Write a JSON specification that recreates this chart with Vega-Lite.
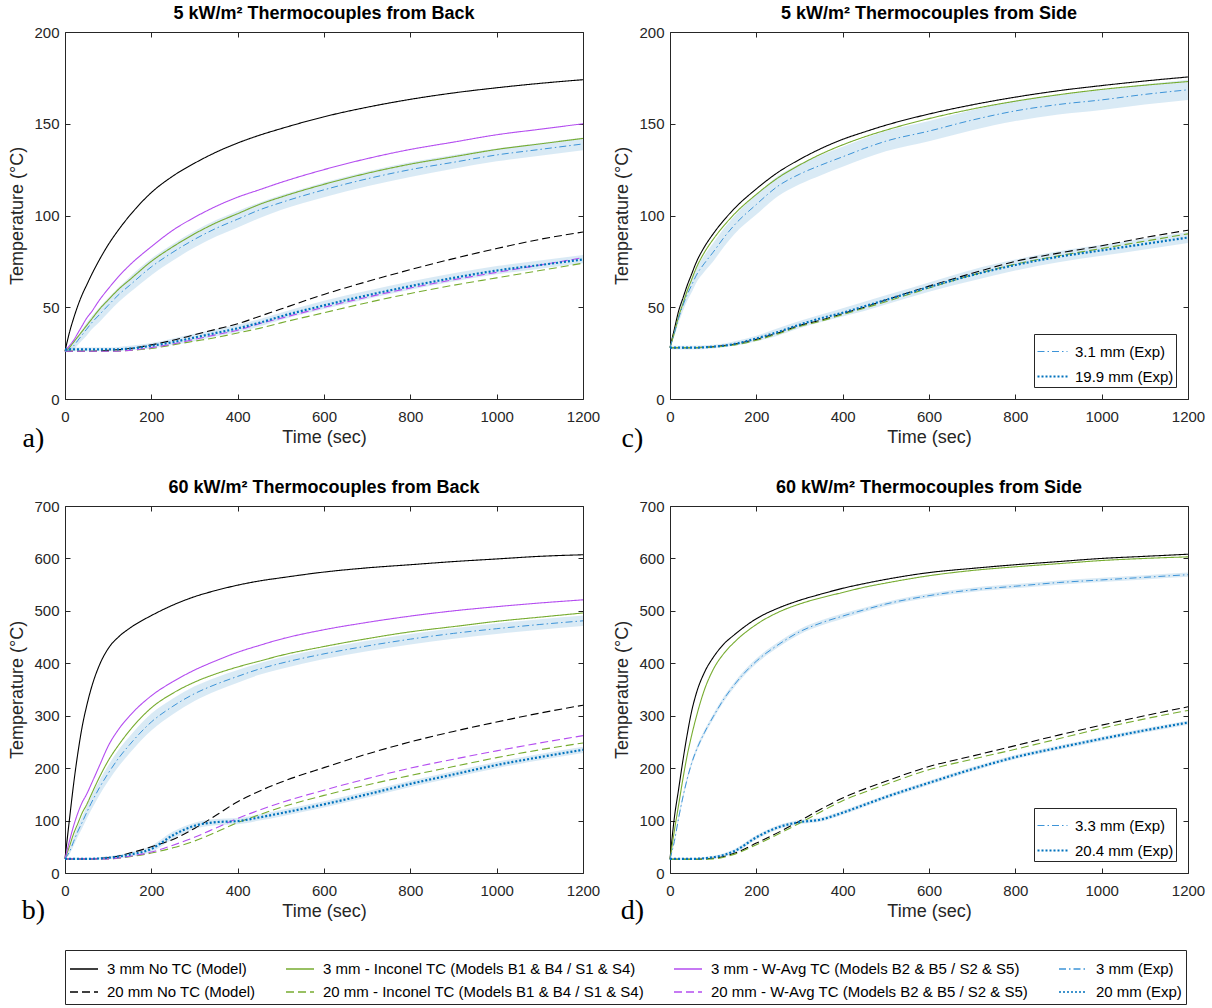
{
"$schema":"https://vega.github.io/schema/vega-lite/v6.json",
"padding":{"left":8,"top":4,"right":4,"bottom":0},
"background":"white",
"datasets":{
"names":[
{"k":"n3","s":"3 mm No TC (Model)"},
{"k":"i3","s":"3 mm - Inconel TC (Models B1 & B4 / S1 & S4)"},
{"k":"w3","s":"3 mm - W-Avg TC (Models B2 & B5 / S2 & S5)"},
{"k":"e3","s":"3 mm (Exp)"},
{"k":"n20","s":"20 mm No TC (Model)"},
{"k":"i20","s":"20 mm - Inconel TC (Models B1 & B4 / S1 & S4)"},
{"k":"w20","s":"20 mm - W-Avg TC (Models B2 & B5 / S2 & S5)"},
{"k":"e20","s":"20 mm (Exp)"}
],
"rows":[
{"p":"a","t":0,"n3":26,"w3":26,"i3":26,"e3":26,"e3l":25.5,"e3h":26.5,"n20":26,"w20":26,"i20":26,"e20":27,"e20l":26,"e20h":28},
{"p":"a","t":10,"n3":36,"w3":29,"i3":28,"e3":27,"e3l":25.5,"e3h":29},
{"p":"a","t":20,"n3":44,"w3":32,"i3":31,"e3":29,"e3l":27,"e3h":31.5},
{"p":"a","t":30,"n3":51,"w3":36,"i3":34,"e3":32,"e3l":29.5,"e3h":34.5},
{"p":"a","t":40,"n3":57,"w3":40,"i3":37,"e3":35,"e3l":32,"e3h":38},
{"p":"a","t":50,"n3":62,"w3":44,"i3":40,"e3":38,"e3l":34.5,"e3h":41.5,"n20":26,"w20":26,"i20":26,"e20":27,"e20l":26,"e20h":28},
{"p":"a","t":60,"n3":67,"w3":47,"i3":43,"e3":41,"e3l":37.5,"e3h":44.5},
{"p":"a","t":80,"n3":76,"w3":54,"i3":49,"e3":46,"e3l":42,"e3h":50},
{"p":"a","t":100,"n3":84,"w3":60,"i3":54,"e3":51,"e3l":47,"e3h":55,"n20":26.5,"w20":26,"i20":26,"e20":27,"e20l":26,"e20h":28},
{"p":"a","t":125,"n3":92.5,"w3":67,"i3":60,"e3":57,"e3l":53,"e3h":61},
{"p":"a","t":150,"n3":100,"w3":73,"i3":65,"e3":62,"e3l":58,"e3h":66.5,"n20":27.5,"w20":26.5,"i20":26.5,"e20":27.5,"e20l":26.5,"e20h":29},
{"p":"a","t":200,"n3":112.5,"w3":83,"i3":75,"e3":72,"e3l":67.5,"e3h":76.5,"n20":29.5,"w20":28,"i20":27.5,"e20":29,"e20l":27.5,"e20h":30.5},
{"p":"a","t":250,"n3":121.5,"w3":92,"i3":83,"e3":80,"e3l":75.5,"e3h":84.5,"n20":32,"w20":30,"i20":29.5,"e20":31,"e20l":29.5,"e20h":33},
{"p":"a","t":300,"n3":128.5,"w3":99,"i3":90,"e3":87,"e3l":82.5,"e3h":91.5,"n20":35,"w20":32.5,"i20":31.5,"e20":33.5,"e20l":31.5,"e20h":35.5},
{"p":"a","t":350,"n3":134.5,"w3":105,"i3":96,"e3":93,"e3l":88.5,"e3h":97.5,"n20":38,"w20":35,"i20":33.5,"e20":36,"e20l":34,"e20h":38},
{"p":"a","t":400,"n3":139.5,"w3":110,"i3":101,"e3":98,"e3l":93.5,"e3h":102.5,"n20":41,"w20":37.5,"i20":36,"e20":38.5,"e20l":36.5,"e20h":40.5},
{"p":"a","t":450,"n3":143.7,"w3":114,"i3":106,"e3":103,"e3l":98.5,"e3h":107,"n20":45,"w20":41,"i20":38.5,"e20":41.5,"e20l":39.5,"e20h":43.5},
{"p":"a","t":500,"n3":147.3,"w3":118,"i3":110,"e3":107,"e3l":103,"e3h":111,"n20":49,"w20":44,"i20":41.5,"e20":45,"e20l":43,"e20h":47},
{"p":"a","t":600,"n3":153.8,"w3":125,"i3":117,"e3":114,"e3l":110,"e3h":118,"n20":57,"w20":50,"i20":47,"e20":51,"e20l":49,"e20h":53.5},
{"p":"a","t":700,"n3":159,"w3":131,"i3":123,"e3":120,"e3l":116,"e3h":124,"n20":64,"w20":55.5,"i20":52.5,"e20":56.5,"e20l":54.5,"e20h":59},
{"p":"a","t":800,"n3":163.3,"w3":136,"i3":128,"e3":125,"e3l":121,"e3h":129,"n20":70.5,"w20":60.5,"i20":57.5,"e20":61.5,"e20l":59.5,"e20h":64},
{"p":"a","t":900,"n3":166.8,"w3":140,"i3":132,"e3":129,"e3l":125.5,"e3h":133,"n20":76.5,"w20":65,"i20":62,"e20":66,"e20l":64,"e20h":68.5},
{"p":"a","t":1000,"n3":169.6,"w3":144,"i3":136,"e3":133,"e3l":129.5,"e3h":136.5,"n20":82,"w20":69,"i20":66,"e20":70,"e20l":68,"e20h":72.5},
{"p":"a","t":1100,"n3":172,"w3":147,"i3":139,"e3":136,"e3l":132.5,"e3h":139.5,"n20":87,"w20":73,"i20":70,"e20":73,"e20l":71,"e20h":75.5},
{"p":"a","t":1200,"n3":174,"w3":150,"i3":142,"e3":139,"e3l":135.5,"e3h":142.5,"n20":91,"w20":77,"i20":74,"e20":76,"e20l":74,"e20h":78.5},

{"p":"c","t":0,"n3":28,"i3":28,"e3":28,"e3l":27.5,"e3h":28.5,"n20":28,"i20":28,"e20":28,"e20l":27,"e20h":29},
{"p":"c","t":10,"n3":38,"i3":36,"e3":36,"e3l":34,"e3h":38},
{"p":"c","t":20,"n3":48,"i3":45,"e3":44,"e3l":41.5,"e3h":46.5},
{"p":"c","t":30,"n3":55,"i3":52,"e3":51,"e3l":48,"e3h":54},
{"p":"c","t":40,"n3":62,"i3":59,"e3":57,"e3l":53.5,"e3h":60.5},
{"p":"c","t":50,"n3":68,"i3":65,"e3":62,"e3l":58,"e3h":66,"n20":28,"i20":28,"e20":28,"e20l":27,"e20h":29},
{"p":"c","t":60,"n3":74,"i3":71,"e3":67,"e3l":63,"e3h":71},
{"p":"c","t":80,"n3":83,"i3":80,"e3":74,"e3l":69.5,"e3h":78.5},
{"p":"c","t":100,"n3":90,"i3":87,"e3":80,"e3l":75,"e3h":85,"n20":28.5,"i20":28.3,"e20":28.5,"e20l":27.5,"e20h":29.5},
{"p":"c","t":125,"n3":97.5,"i3":94.5,"e3":88,"e3l":83,"e3h":93},
{"p":"c","t":150,"n3":104,"i3":101,"e3":95,"e3l":90,"e3h":100,"n20":30,"i20":29.5,"e20":30,"e20l":29,"e20h":31.5},
{"p":"c","t":200,"n3":114.5,"i3":111.5,"e3":106,"e3l":100.5,"e3h":111.5,"n20":32.5,"i20":32,"e20":33,"e20l":31.5,"e20h":34.5},
{"p":"c","t":250,"n3":123.5,"i3":120.5,"e3":116,"e3l":110.5,"e3h":121.5,"n20":36,"i20":35.5,"e20":36.5,"e20l":34.5,"e20h":38.5},
{"p":"c","t":300,"n3":130.5,"i3":127.5,"e3":122.5,"e3l":117,"e3h":128,"n20":40,"i20":39.5,"e20":40.5,"e20l":38.5,"e20h":42.5},
{"p":"c","t":350,"n3":136.5,"i3":133.5,"e3":127.5,"e3l":122,"e3h":133,"n20":43,"i20":42.5,"e20":44,"e20l":42,"e20h":46},
{"p":"c","t":400,"n3":141.5,"i3":138.5,"e3":132,"e3l":126.5,"e3h":137.5,"n20":46.5,"i20":46,"e20":47,"e20l":45,"e20h":49.5},
{"p":"c","t":450,"n3":145.5,"i3":142.8,"e3":136.5,"e3l":131,"e3h":142,"n20":50,"i20":49.5,"e20":50.5,"e20l":48,"e20h":53},
{"p":"c","t":500,"n3":149.2,"i3":146.5,"e3":140.5,"e3l":135,"e3h":146,"n20":54,"i20":53,"e20":54,"e20l":51.5,"e20h":56.5},
{"p":"c","t":600,"n3":155.3,"i3":152.8,"e3":146,"e3l":140.5,"e3h":151.5,"n20":61.5,"i20":60.5,"e20":61,"e20l":58.5,"e20h":63.5},
{"p":"c","t":700,"n3":160.3,"i3":158,"e3":152,"e3l":146.5,"e3h":157.5,"n20":68.5,"i20":67.5,"e20":67.5,"e20l":64.5,"e20h":70.5},
{"p":"c","t":800,"n3":164.5,"i3":162.3,"e3":157,"e3l":151.5,"e3h":162.5,"n20":75,"i20":73.5,"e20":73,"e20l":70,"e20h":76},
{"p":"c","t":900,"n3":168,"i3":165.8,"e3":160.5,"e3l":155,"e3h":166,"n20":79.5,"i20":78,"e20":77.5,"e20l":74.5,"e20h":80.5},
{"p":"c","t":1000,"n3":170.8,"i3":168.7,"e3":163,"e3l":157.5,"e3h":168.5,"n20":83.5,"i20":82,"e20":81,"e20l":78,"e20h":84},
{"p":"c","t":1100,"n3":173.3,"i3":171,"e3":166,"e3l":160.5,"e3h":171.5,"n20":88,"i20":86,"e20":84.5,"e20l":81.5,"e20h":87.5},
{"p":"c","t":1200,"n3":175.5,"i3":173,"e3":168.5,"e3l":163,"e3h":174,"n20":92,"i20":90,"e20":88,"e20l":85,"e20h":91},

{"p":"b","t":0,"n3":27,"w3":27,"i3":27,"e3":27,"e3l":26,"e3h":28,"n20":27,"w20":27,"i20":27,"e20":27,"e20l":25,"e20h":29},
{"p":"b","t":10,"n3":100,"w3":60,"i3":50,"e3":40,"e3l":35,"e3h":46},
{"p":"b","t":20,"n3":170,"w3":90,"i3":75,"e3":60,"e3l":52,"e3h":68},
{"p":"b","t":30,"n3":230,"w3":115,"i3":95,"e3":80,"e3l":70,"e3h":90},
{"p":"b","t":40,"n3":280,"w3":135,"i3":115,"e3":97,"e3l":86,"e3h":108},
{"p":"b","t":50,"n3":318,"w3":150,"i3":130,"e3":115,"e3l":103,"e3h":127,"n20":27,"w20":27,"i20":27,"e20":27,"e20l":25,"e20h":29},
{"p":"b","t":60,"n3":350,"w3":168,"i3":148,"e3":132,"e3l":119,"e3h":145},
{"p":"b","t":80,"n3":397,"w3":205,"i3":183,"e3":163,"e3l":149,"e3h":177},
{"p":"b","t":100,"n3":428,"w3":242,"i3":214,"e3":190,"e3l":175,"e3h":205,"n20":29,"w20":27,"i20":27,"e20":29,"e20l":26,"e20h":32},
{"p":"b","t":125,"n3":451,"w3":275,"i3":245,"e3":220,"e3l":204,"e3h":236},
{"p":"b","t":150,"n3":467,"w3":300,"i3":272,"e3":245,"e3l":229,"e3h":261,"n20":38,"w20":32,"i20":31,"e20":35,"e20l":31,"e20h":39},
{"p":"b","t":200,"n3":491,"w3":338,"i3":315,"e3":288,"e3l":272,"e3h":304,"n20":50,"w20":40,"i20":38,"e20":46,"e20l":40,"e20h":52},
{"p":"b","t":250,"n3":511,"w3":365,"i3":343,"e3":318,"e3l":303,"e3h":333,"n20":64,"w20":53,"i20":48,"e20":72,"e20l":65,"e20h":79},
{"p":"b","t":300,"n3":527,"w3":387,"i3":364,"e3":342,"e3l":328,"e3h":356,"n20":85,"w20":68,"i20":61,"e20":90,"e20l":84,"e20h":96},
{"p":"b","t":350,"n3":539,"w3":405,"i3":380,"e3":360,"e3l":347,"e3h":373,"n20":110,"w20":86,"i20":78,"e20":97,"e20l":91,"e20h":103},
{"p":"b","t":400,"n3":549,"w3":421,"i3":393,"e3":375,"e3l":363,"e3h":387,"n20":136,"w20":104,"i20":96,"e20":99,"e20l":93,"e20h":105},
{"p":"b","t":450,"n3":557,"w3":434,"i3":404,"e3":389,"e3l":378,"e3h":400,"n20":156,"w20":120,"i20":111,"e20":106,"e20l":100,"e20h":112},
{"p":"b","t":500,"n3":563,"w3":446,"i3":415,"e3":400,"e3l":389,"e3h":411,"n20":173,"w20":134,"i20":125,"e20":114,"e20l":108,"e20h":120},
{"p":"b","t":600,"n3":574,"w3":464,"i3":432,"e3":418,"e3l":408,"e3h":428,"n20":201,"w20":158,"i20":148,"e20":131,"e20l":125,"e20h":137},
{"p":"b","t":700,"n3":582,"w3":478,"i3":447,"e3":433,"e3l":423,"e3h":443,"n20":227,"w20":180,"i20":168,"e20":150,"e20l":144,"e20h":156},
{"p":"b","t":800,"n3":588,"w3":490,"i3":460,"e3":446,"e3l":436,"e3h":456,"n20":250,"w20":200,"i20":186,"e20":170,"e20l":164,"e20h":176},
{"p":"b","t":900,"n3":594,"w3":500,"i3":470,"e3":457,"e3l":447,"e3h":467,"n20":270,"w20":217,"i20":203,"e20":188,"e20l":182,"e20h":194},
{"p":"b","t":1000,"n3":599,"w3":508,"i3":480,"e3":466,"e3l":456,"e3h":476,"n20":288,"w20":233,"i20":220,"e20":206,"e20l":200,"e20h":212},
{"p":"b","t":1100,"n3":604,"w3":515,"i3":488,"e3":474,"e3l":464,"e3h":484,"n20":305,"w20":248,"i20":235,"e20":221,"e20l":215,"e20h":227},
{"p":"b","t":1200,"n3":607,"w3":521,"i3":496,"e3":481,"e3l":471,"e3h":491,"n20":320,"w20":262,"i20":248,"e20":235,"e20l":229,"e20h":241},

{"p":"d","t":0,"n3":26,"i3":26,"e3":26,"e3l":25,"e3h":27,"n20":26,"i20":26,"e20":27,"e20l":25,"e20h":29},
{"p":"d","t":10,"n3":105,"i3":80,"e3":60,"e3l":56,"e3h":64},
{"p":"d","t":20,"n3":160,"i3":130,"e3":105,"e3l":100,"e3h":110},
{"p":"d","t":30,"n3":215,"i3":180,"e3":145,"e3l":140,"e3h":150},
{"p":"d","t":40,"n3":265,"i3":225,"e3":180,"e3l":175,"e3h":185},
{"p":"d","t":50,"n3":308,"i3":262,"e3":209,"e3l":204,"e3h":214,"n20":26,"i20":26,"e20":27,"e20l":25,"e20h":29},
{"p":"d","t":60,"n3":340,"i3":295,"e3":232,"e3l":227,"e3h":237},
{"p":"d","t":80,"n3":383,"i3":350,"e3":268,"e3l":263,"e3h":273},
{"p":"d","t":100,"n3":411,"i3":388,"e3":298,"e3l":293,"e3h":303,"n20":28,"i20":27,"e20":30,"e20l":27,"e20h":33},
{"p":"d","t":125,"n3":437,"i3":419,"e3":332,"e3l":327,"e3h":337},
{"p":"d","t":150,"n3":455,"i3":441,"e3":360,"e3l":355,"e3h":365,"n20":38,"i20":36,"e20":42,"e20l":38,"e20h":46},
{"p":"d","t":200,"n3":485,"i3":474,"e3":404,"e3l":399,"e3h":409,"n20":57,"i20":54,"e20":68,"e20l":64,"e20h":72},
{"p":"d","t":250,"n3":505,"i3":497,"e3":435,"e3l":430,"e3h":440,"n20":77,"i20":74,"e20":87,"e20l":83,"e20h":91},
{"p":"d","t":300,"n3":520,"i3":513,"e3":460,"e3l":455,"e3h":465,"n20":99,"i20":95,"e20":97,"e20l":93,"e20h":101},
{"p":"d","t":350,"n3":532,"i3":525,"e3":477,"e3l":472,"e3h":482,"n20":122,"i20":117,"e20":102,"e20l":98,"e20h":106},
{"p":"d","t":400,"n3":543,"i3":535,"e3":490,"e3l":485,"e3h":495,"n20":143,"i20":138,"e20":115,"e20l":111,"e20h":119},
{"p":"d","t":450,"n3":552,"i3":545,"e3":502,"e3l":498,"e3h":506,"n20":160,"i20":154,"e20":130,"e20l":126,"e20h":134},
{"p":"d","t":500,"n3":560,"i3":553,"e3":513,"e3l":509,"e3h":517,"n20":175,"i20":169,"e20":145,"e20l":141,"e20h":149},
{"p":"d","t":600,"n3":573,"i3":567,"e3":529,"e3l":525,"e3h":533,"n20":203,"i20":197,"e20":172,"e20l":168,"e20h":176},
{"p":"d","t":700,"n3":581,"i3":577,"e3":540,"e3l":536,"e3h":544,"n20":223,"i20":217,"e20":198,"e20l":194,"e20h":202},
{"p":"d","t":800,"n3":588,"i3":584,"e3":547,"e3l":543,"e3h":551,"n20":243,"i20":236,"e20":221,"e20l":217,"e20h":225},
{"p":"d","t":900,"n3":594,"i3":590,"e3":554,"e3l":550,"e3h":558,"n20":263,"i20":256,"e20":239,"e20l":235,"e20h":243},
{"p":"d","t":1000,"n3":600,"i3":596,"e3":559,"e3l":555,"e3h":563,"n20":282,"i20":276,"e20":256,"e20l":252,"e20h":260},
{"p":"d","t":1100,"n3":604,"i3":600,"e3":564,"e3l":560,"e3h":568,"n20":300,"i20":294,"e20":272,"e20l":268,"e20h":276},
{"p":"d","t":1200,"n3":608,"i3":603,"e3":569,"e3l":565,"e3h":573,"n20":317,"i20":310,"e20":287,"e20l":283,"e20h":291}
]},
"data":{"name":"rows"},
"columns":2,
"spacing":{"row":107,"column":87},
"bounds":"flush",
"resolve":{"scale":{"x":"independent","y":"independent","strokeWidth":"independent"},"legend":{"strokeWidth":"independent"}},
"config":{
"view":{"stroke":"#262626","strokeWidth":1},
"font":"Liberation Sans",
"title":{"font":"Liberation Sans","fontSize":18,"fontWeight":"bold","color":"#000000","offset":2},
"axis":{"labelFont":"Liberation Sans","labelFontSize":15,"labelColor":"#262626","titleFont":"Liberation Sans","titleFontSize":18,"titleFontWeight":"normal","titleColor":"#262626","tickColor":"#262626","grid":false,"domain":false,"tickSize":-5,"labelFlush":false,"labelOverlap":false,"format":"d"},
"axisX":{"titlePadding":4,"labelPadding":15},
"axisY":{"titlePadding":7,"labelPadding":11},
"legend":{"orient":"bottom","direction":"horizontal","columns":4,"strokeColor":"#262626","fillColor":"white","padding":4,"offset":24,"labelFont":"Liberation Sans","labelFontSize":15,"labelColor":"#000000","symbolType":"stroke","symbolSize":784,"labelOffset":8,"symbolStrokeWidth":1.3,"rowPadding":-2,"columnPadding":27,"labelLimit":600}
},
"concat":[
{"width":518,"height":367,"title":"5 kW/m² Thermocouples from Back",
"transform":[{"filter":"datum.p == 'a'"}],
"resolve":{"axis":{"x":"independent","y":"independent"}},
"layer":[
{"transform":[{"filter":"isValid(datum.e3l)"}],"mark":{"type":"area","fill":"#0072bd","opacity":0.15,"interpolate":"monotone"},
"encoding":{"x":{"field":"t","type":"quantitative","scale":{"domain":[0,1200],"nice":false},"axis":{"orient":"bottom","values":[0,200,400,600,800,1000,1200],"title":"Time (sec)"}},
"y":{"field":"e3l","type":"quantitative","scale":{"domain":[0,200],"nice":false},"axis":{"orient":"left","values":[0,50,100,150,200],"title":"Temperature (°C)"}},"y2":{"field":"e3h"}}},
{"transform":[{"filter":"isValid(datum.e20l)"}],"mark":{"type":"area","fill":"#0072bd","opacity":0.15,"interpolate":"monotone"},
"encoding":{"x":{"field":"t","type":"quantitative","scale":{"domain":[0,1200],"nice":false},"axis":{"orient":"top","values":[0,200,400,600,800,1000,1200],"labels":false,"title":null}},
"y":{"field":"e20l","type":"quantitative","scale":{"domain":[0,200],"nice":false},"axis":{"orient":"right","values":[0,50,100,150,200],"labels":false,"title":null}},"y2":{"field":"e20h"}}},
{"transform":[{"fold":["n3","i3","w3","n20","i20","w20"],"as":["k","v"]},{"filter":"isValid(datum.v)"},{"lookup":"k","from":{"data":{"name":"names"},"key":"k","fields":["s"]}}],
"mark":{"type":"line","interpolate":"monotone","strokeWidth":1.1},
"encoding":{"x":{"field":"t","type":"quantitative","scale":{"domain":[0,1200],"nice":false},"axis":null},
"y":{"field":"v","type":"quantitative","scale":{"domain":[0,200],"nice":false},"axis":null},
"color":{"field":"s","type":"nominal","scale":{"domain":["3 mm No TC (Model)","3 mm - Inconel TC (Models B1 & B4 / S1 & S4)","3 mm - W-Avg TC (Models B2 & B5 / S2 & S5)","3 mm (Exp)","20 mm No TC (Model)","20 mm - Inconel TC (Models B1 & B4 / S1 & S4)","20 mm - W-Avg TC (Models B2 & B5 / S2 & S5)","20 mm (Exp)"],"range":["#000000","#77ac30","#b44df0","#3d94d8","#000000","#77ac30","#b44df0","#0072bd"]},"legend":{"title":null}},
"strokeDash":{"field":"s","type":"nominal","scale":{"domain":["3 mm No TC (Model)","3 mm - Inconel TC (Models B1 & B4 / S1 & S4)","3 mm - W-Avg TC (Models B2 & B5 / S2 & S5)","3 mm (Exp)","20 mm No TC (Model)","20 mm - Inconel TC (Models B1 & B4 / S1 & S4)","20 mm - W-Avg TC (Models B2 & B5 / S2 & S5)","20 mm (Exp)"],"range":[[1,0],[1,0],[1,0],[7,3,1.5,3],[8,4],[8,4],[8,4],[2,2]]},"legend":{"title":null}}}},
{"transform":[{"fold":["e3","e20"],"as":["k","v"]},{"filter":"isValid(datum.v)"},{"lookup":"k","from":{"data":{"name":"names"},"key":"k","fields":["s"]}}],
"mark":{"type":"line","interpolate":"monotone"},
"encoding":{"x":{"field":"t","type":"quantitative","scale":{"domain":[0,1200],"nice":false},"axis":null},
"y":{"field":"v","type":"quantitative","scale":{"domain":[0,200],"nice":false},"axis":null},
"color":{"field":"s","type":"nominal","scale":{"domain":["3 mm No TC (Model)","3 mm - Inconel TC (Models B1 & B4 / S1 & S4)","3 mm - W-Avg TC (Models B2 & B5 / S2 & S5)","3 mm (Exp)","20 mm No TC (Model)","20 mm - Inconel TC (Models B1 & B4 / S1 & S4)","20 mm - W-Avg TC (Models B2 & B5 / S2 & S5)","20 mm (Exp)"],"range":["#000000","#77ac30","#b44df0","#3d94d8","#000000","#77ac30","#b44df0","#0072bd"]},"legend":{"title":null}},
"strokeDash":{"field":"s","type":"nominal","scale":{"domain":["3 mm No TC (Model)","3 mm - Inconel TC (Models B1 & B4 / S1 & S4)","3 mm - W-Avg TC (Models B2 & B5 / S2 & S5)","3 mm (Exp)","20 mm No TC (Model)","20 mm - Inconel TC (Models B1 & B4 / S1 & S4)","20 mm - W-Avg TC (Models B2 & B5 / S2 & S5)","20 mm (Exp)"],"range":[[1,0],[1,0],[1,0],[7,3,1.5,3],[8,4],[8,4],[8,4],[2,2]]},"legend":{"title":null}},
"strokeWidth":{"field":"k","type":"nominal","scale":{"type":"ordinal","domain":["e3","e20"],"range":[1,2.2]},"legend":null}}},
{"transform":[{"filter":"datum.t == 0"}],"mark":{"type":"text","text":"a)","font":"Liberation Serif","fontSize":28,"align":"center","baseline":"middle","color":"#000000"},
"encoding":{"x":{"datum":-73,"type":"quantitative","scale":{"domain":[0,1200],"nice":false},"axis":null},"y":{"datum":-22,"type":"quantitative","scale":{"domain":[0,200],"nice":false},"axis":null}}}
]},
{"width":518,"height":367,"title":"5 kW/m² Thermocouples from Side",
"transform":[{"filter":"datum.p == 'c'"}],
"resolve":{"axis":{"x":"independent","y":"independent"}},
"layer":[
{"transform":[{"filter":"isValid(datum.e3l)"}],"mark":{"type":"area","fill":"#0072bd","opacity":0.15,"interpolate":"monotone"},
"encoding":{"x":{"field":"t","type":"quantitative","scale":{"domain":[0,1200],"nice":false},"axis":{"orient":"bottom","values":[0,200,400,600,800,1000,1200],"title":"Time (sec)"}},
"y":{"field":"e3l","type":"quantitative","scale":{"domain":[0,200],"nice":false},"axis":{"orient":"left","values":[0,50,100,150,200],"title":"Temperature (°C)"}},"y2":{"field":"e3h"}}},
{"transform":[{"filter":"isValid(datum.e20l)"}],"mark":{"type":"area","fill":"#0072bd","opacity":0.15,"interpolate":"monotone"},
"encoding":{"x":{"field":"t","type":"quantitative","scale":{"domain":[0,1200],"nice":false},"axis":{"orient":"top","values":[0,200,400,600,800,1000,1200],"labels":false,"title":null}},
"y":{"field":"e20l","type":"quantitative","scale":{"domain":[0,200],"nice":false},"axis":{"orient":"right","values":[0,50,100,150,200],"labels":false,"title":null}},"y2":{"field":"e20h"}}},
{"transform":[{"fold":["n3","i3","w3","n20","i20","w20"],"as":["k","v"]},{"filter":"isValid(datum.v)"},{"lookup":"k","from":{"data":{"name":"names"},"key":"k","fields":["s"]}}],
"mark":{"type":"line","interpolate":"monotone","strokeWidth":1.1},
"encoding":{"x":{"field":"t","type":"quantitative","scale":{"domain":[0,1200],"nice":false},"axis":null},
"y":{"field":"v","type":"quantitative","scale":{"domain":[0,200],"nice":false},"axis":null},
"color":{"field":"s","type":"nominal","scale":{"domain":["3 mm No TC (Model)","3 mm - Inconel TC (Models B1 & B4 / S1 & S4)","3 mm - W-Avg TC (Models B2 & B5 / S2 & S5)","3 mm (Exp)","20 mm No TC (Model)","20 mm - Inconel TC (Models B1 & B4 / S1 & S4)","20 mm - W-Avg TC (Models B2 & B5 / S2 & S5)","20 mm (Exp)"],"range":["#000000","#77ac30","#b44df0","#3d94d8","#000000","#77ac30","#b44df0","#0072bd"]},"legend":{"title":null}},
"strokeDash":{"field":"s","type":"nominal","scale":{"domain":["3 mm No TC (Model)","3 mm - Inconel TC (Models B1 & B4 / S1 & S4)","3 mm - W-Avg TC (Models B2 & B5 / S2 & S5)","3 mm (Exp)","20 mm No TC (Model)","20 mm - Inconel TC (Models B1 & B4 / S1 & S4)","20 mm - W-Avg TC (Models B2 & B5 / S2 & S5)","20 mm (Exp)"],"range":[[1,0],[1,0],[1,0],[7,3,1.5,3],[8,4],[8,4],[8,4],[2,2]]},"legend":{"title":null}}}},
{"transform":[{"fold":["e3","e20"],"as":["k","v"]},{"filter":"isValid(datum.v)"},{"lookup":"k","from":{"data":{"name":"names"},"key":"k","fields":["s"]}}],
"mark":{"type":"line","interpolate":"monotone"},
"encoding":{"x":{"field":"t","type":"quantitative","scale":{"domain":[0,1200],"nice":false},"axis":null},
"y":{"field":"v","type":"quantitative","scale":{"domain":[0,200],"nice":false},"axis":null},
"color":{"field":"s","type":"nominal","scale":{"domain":["3 mm No TC (Model)","3 mm - Inconel TC (Models B1 & B4 / S1 & S4)","3 mm - W-Avg TC (Models B2 & B5 / S2 & S5)","3 mm (Exp)","20 mm No TC (Model)","20 mm - Inconel TC (Models B1 & B4 / S1 & S4)","20 mm - W-Avg TC (Models B2 & B5 / S2 & S5)","20 mm (Exp)"],"range":["#000000","#77ac30","#b44df0","#3d94d8","#000000","#77ac30","#b44df0","#0072bd"]},"legend":{"title":null}},
"strokeDash":{"field":"s","type":"nominal","scale":{"domain":["3 mm No TC (Model)","3 mm - Inconel TC (Models B1 & B4 / S1 & S4)","3 mm - W-Avg TC (Models B2 & B5 / S2 & S5)","3 mm (Exp)","20 mm No TC (Model)","20 mm - Inconel TC (Models B1 & B4 / S1 & S4)","20 mm - W-Avg TC (Models B2 & B5 / S2 & S5)","20 mm (Exp)"],"range":[[1,0],[1,0],[1,0],[7,3,1.5,3],[8,4],[8,4],[8,4],[2,2]]},"legend":{"title":null}},
"strokeWidth":{"field":"k","type":"nominal","scale":{"type":"ordinal","domain":["e3","e20"],"range":[1,2.2]},
"legend":{"orient":"bottom-right","offset":12,"direction":"vertical","columns":1,"title":null,"padding":2,"rowPadding":-13,"labelFont":"Liberation Sans","labelFontSize":15,"symbolSize":900,"labelOffset":6,"labelExpr":"datum.value == 'e3' ? '3.1 mm (Exp)' : '19.9 mm (Exp)'",
"encode":{"symbols":{"update":{"stroke":{"signal":"datum.value == 'e3' ? '#3d94d8' : '#0072bd'"},"strokeWidth":{"signal":"datum.value == 'e3' ? 1.3 : 2.2"},"strokeDash":{"signal":"datum.value == 'e3' ? [7,3,1.5,3] : [2,2]"}}}}}}}},
{"transform":[{"filter":"datum.t == 0"}],"mark":{"type":"text","text":"c)","font":"Liberation Serif","fontSize":28,"align":"center","baseline":"middle","color":"#000000"},
"encoding":{"x":{"datum":-87,"type":"quantitative","scale":{"domain":[0,1200],"nice":false},"axis":null},"y":{"datum":-22,"type":"quantitative","scale":{"domain":[0,200],"nice":false},"axis":null}}}
]},
{"width":518,"height":367,"title":"60 kW/m² Thermocouples from Back",
"transform":[{"filter":"datum.p == 'b'"}],
"resolve":{"axis":{"x":"independent","y":"independent"}},
"layer":[
{"transform":[{"filter":"isValid(datum.e3l)"}],"mark":{"type":"area","fill":"#0072bd","opacity":0.15,"interpolate":"monotone"},
"encoding":{"x":{"field":"t","type":"quantitative","scale":{"domain":[0,1200],"nice":false},"axis":{"orient":"bottom","values":[0,200,400,600,800,1000,1200],"title":"Time (sec)"}},
"y":{"field":"e3l","type":"quantitative","scale":{"domain":[0,700],"nice":false},"axis":{"orient":"left","values":[0,100,200,300,400,500,600,700],"title":"Temperature (°C)"}},"y2":{"field":"e3h"}}},
{"transform":[{"filter":"isValid(datum.e20l)"}],"mark":{"type":"area","fill":"#0072bd","opacity":0.15,"interpolate":"monotone"},
"encoding":{"x":{"field":"t","type":"quantitative","scale":{"domain":[0,1200],"nice":false},"axis":{"orient":"top","values":[0,200,400,600,800,1000,1200],"labels":false,"title":null}},
"y":{"field":"e20l","type":"quantitative","scale":{"domain":[0,700],"nice":false},"axis":{"orient":"right","values":[0,100,200,300,400,500,600,700],"labels":false,"title":null}},"y2":{"field":"e20h"}}},
{"transform":[{"fold":["n3","i3","w3","n20","i20","w20"],"as":["k","v"]},{"filter":"isValid(datum.v)"},{"lookup":"k","from":{"data":{"name":"names"},"key":"k","fields":["s"]}}],
"mark":{"type":"line","interpolate":"monotone","strokeWidth":1.1},
"encoding":{"x":{"field":"t","type":"quantitative","scale":{"domain":[0,1200],"nice":false},"axis":null},
"y":{"field":"v","type":"quantitative","scale":{"domain":[0,700],"nice":false},"axis":null},
"color":{"field":"s","type":"nominal","scale":{"domain":["3 mm No TC (Model)","3 mm - Inconel TC (Models B1 & B4 / S1 & S4)","3 mm - W-Avg TC (Models B2 & B5 / S2 & S5)","3 mm (Exp)","20 mm No TC (Model)","20 mm - Inconel TC (Models B1 & B4 / S1 & S4)","20 mm - W-Avg TC (Models B2 & B5 / S2 & S5)","20 mm (Exp)"],"range":["#000000","#77ac30","#b44df0","#3d94d8","#000000","#77ac30","#b44df0","#0072bd"]},"legend":{"title":null}},
"strokeDash":{"field":"s","type":"nominal","scale":{"domain":["3 mm No TC (Model)","3 mm - Inconel TC (Models B1 & B4 / S1 & S4)","3 mm - W-Avg TC (Models B2 & B5 / S2 & S5)","3 mm (Exp)","20 mm No TC (Model)","20 mm - Inconel TC (Models B1 & B4 / S1 & S4)","20 mm - W-Avg TC (Models B2 & B5 / S2 & S5)","20 mm (Exp)"],"range":[[1,0],[1,0],[1,0],[7,3,1.5,3],[8,4],[8,4],[8,4],[2,2]]},"legend":{"title":null}}}},
{"transform":[{"fold":["e3","e20"],"as":["k","v"]},{"filter":"isValid(datum.v)"},{"lookup":"k","from":{"data":{"name":"names"},"key":"k","fields":["s"]}}],
"mark":{"type":"line","interpolate":"monotone"},
"encoding":{"x":{"field":"t","type":"quantitative","scale":{"domain":[0,1200],"nice":false},"axis":null},
"y":{"field":"v","type":"quantitative","scale":{"domain":[0,700],"nice":false},"axis":null},
"color":{"field":"s","type":"nominal","scale":{"domain":["3 mm No TC (Model)","3 mm - Inconel TC (Models B1 & B4 / S1 & S4)","3 mm - W-Avg TC (Models B2 & B5 / S2 & S5)","3 mm (Exp)","20 mm No TC (Model)","20 mm - Inconel TC (Models B1 & B4 / S1 & S4)","20 mm - W-Avg TC (Models B2 & B5 / S2 & S5)","20 mm (Exp)"],"range":["#000000","#77ac30","#b44df0","#3d94d8","#000000","#77ac30","#b44df0","#0072bd"]},"legend":{"title":null}},
"strokeDash":{"field":"s","type":"nominal","scale":{"domain":["3 mm No TC (Model)","3 mm - Inconel TC (Models B1 & B4 / S1 & S4)","3 mm - W-Avg TC (Models B2 & B5 / S2 & S5)","3 mm (Exp)","20 mm No TC (Model)","20 mm - Inconel TC (Models B1 & B4 / S1 & S4)","20 mm - W-Avg TC (Models B2 & B5 / S2 & S5)","20 mm (Exp)"],"range":[[1,0],[1,0],[1,0],[7,3,1.5,3],[8,4],[8,4],[8,4],[2,2]]},"legend":{"title":null}},
"strokeWidth":{"field":"k","type":"nominal","scale":{"type":"ordinal","domain":["e3","e20"],"range":[1,2.2]},"legend":null}}},
{"transform":[{"filter":"datum.t == 0"}],"mark":{"type":"text","text":"b)","font":"Liberation Serif","fontSize":28,"align":"center","baseline":"middle","color":"#000000"},
"encoding":{"x":{"datum":-73,"type":"quantitative","scale":{"domain":[0,1200],"nice":false},"axis":null},"y":{"datum":-72,"type":"quantitative","scale":{"domain":[0,700],"nice":false},"axis":null}}}
]},
{"width":518,"height":367,"title":"60 kW/m² Thermocouples from Side",
"transform":[{"filter":"datum.p == 'd'"}],
"resolve":{"axis":{"x":"independent","y":"independent"}},
"layer":[
{"transform":[{"filter":"isValid(datum.e3l)"}],"mark":{"type":"area","fill":"#0072bd","opacity":0.15,"interpolate":"monotone"},
"encoding":{"x":{"field":"t","type":"quantitative","scale":{"domain":[0,1200],"nice":false},"axis":{"orient":"bottom","values":[0,200,400,600,800,1000,1200],"title":"Time (sec)"}},
"y":{"field":"e3l","type":"quantitative","scale":{"domain":[0,700],"nice":false},"axis":{"orient":"left","values":[0,100,200,300,400,500,600,700],"title":"Temperature (°C)"}},"y2":{"field":"e3h"}}},
{"transform":[{"filter":"isValid(datum.e20l)"}],"mark":{"type":"area","fill":"#0072bd","opacity":0.15,"interpolate":"monotone"},
"encoding":{"x":{"field":"t","type":"quantitative","scale":{"domain":[0,1200],"nice":false},"axis":{"orient":"top","values":[0,200,400,600,800,1000,1200],"labels":false,"title":null}},
"y":{"field":"e20l","type":"quantitative","scale":{"domain":[0,700],"nice":false},"axis":{"orient":"right","values":[0,100,200,300,400,500,600,700],"labels":false,"title":null}},"y2":{"field":"e20h"}}},
{"transform":[{"fold":["n3","i3","w3","n20","i20","w20"],"as":["k","v"]},{"filter":"isValid(datum.v)"},{"lookup":"k","from":{"data":{"name":"names"},"key":"k","fields":["s"]}}],
"mark":{"type":"line","interpolate":"monotone","strokeWidth":1.1},
"encoding":{"x":{"field":"t","type":"quantitative","scale":{"domain":[0,1200],"nice":false},"axis":null},
"y":{"field":"v","type":"quantitative","scale":{"domain":[0,700],"nice":false},"axis":null},
"color":{"field":"s","type":"nominal","scale":{"domain":["3 mm No TC (Model)","3 mm - Inconel TC (Models B1 & B4 / S1 & S4)","3 mm - W-Avg TC (Models B2 & B5 / S2 & S5)","3 mm (Exp)","20 mm No TC (Model)","20 mm - Inconel TC (Models B1 & B4 / S1 & S4)","20 mm - W-Avg TC (Models B2 & B5 / S2 & S5)","20 mm (Exp)"],"range":["#000000","#77ac30","#b44df0","#3d94d8","#000000","#77ac30","#b44df0","#0072bd"]},"legend":{"title":null}},
"strokeDash":{"field":"s","type":"nominal","scale":{"domain":["3 mm No TC (Model)","3 mm - Inconel TC (Models B1 & B4 / S1 & S4)","3 mm - W-Avg TC (Models B2 & B5 / S2 & S5)","3 mm (Exp)","20 mm No TC (Model)","20 mm - Inconel TC (Models B1 & B4 / S1 & S4)","20 mm - W-Avg TC (Models B2 & B5 / S2 & S5)","20 mm (Exp)"],"range":[[1,0],[1,0],[1,0],[7,3,1.5,3],[8,4],[8,4],[8,4],[2,2]]},"legend":{"title":null}}}},
{"transform":[{"fold":["e3","e20"],"as":["k","v"]},{"filter":"isValid(datum.v)"},{"lookup":"k","from":{"data":{"name":"names"},"key":"k","fields":["s"]}}],
"mark":{"type":"line","interpolate":"monotone"},
"encoding":{"x":{"field":"t","type":"quantitative","scale":{"domain":[0,1200],"nice":false},"axis":null},
"y":{"field":"v","type":"quantitative","scale":{"domain":[0,700],"nice":false},"axis":null},
"color":{"field":"s","type":"nominal","scale":{"domain":["3 mm No TC (Model)","3 mm - Inconel TC (Models B1 & B4 / S1 & S4)","3 mm - W-Avg TC (Models B2 & B5 / S2 & S5)","3 mm (Exp)","20 mm No TC (Model)","20 mm - Inconel TC (Models B1 & B4 / S1 & S4)","20 mm - W-Avg TC (Models B2 & B5 / S2 & S5)","20 mm (Exp)"],"range":["#000000","#77ac30","#b44df0","#3d94d8","#000000","#77ac30","#b44df0","#0072bd"]},"legend":{"title":null}},
"strokeDash":{"field":"s","type":"nominal","scale":{"domain":["3 mm No TC (Model)","3 mm - Inconel TC (Models B1 & B4 / S1 & S4)","3 mm - W-Avg TC (Models B2 & B5 / S2 & S5)","3 mm (Exp)","20 mm No TC (Model)","20 mm - Inconel TC (Models B1 & B4 / S1 & S4)","20 mm - W-Avg TC (Models B2 & B5 / S2 & S5)","20 mm (Exp)"],"range":[[1,0],[1,0],[1,0],[7,3,1.5,3],[8,4],[8,4],[8,4],[2,2]]},"legend":{"title":null}},
"strokeWidth":{"field":"k","type":"nominal","scale":{"type":"ordinal","domain":["e3","e20"],"range":[1,2.2]},
"legend":{"orient":"bottom-right","offset":12,"direction":"vertical","columns":1,"title":null,"padding":2,"rowPadding":-13,"labelFont":"Liberation Sans","labelFontSize":15,"symbolSize":900,"labelOffset":6,"labelExpr":"datum.value == 'e3' ? '3.3 mm (Exp)' : '20.4 mm (Exp)'",
"encode":{"symbols":{"update":{"stroke":{"signal":"datum.value == 'e3' ? '#3d94d8' : '#0072bd'"},"strokeWidth":{"signal":"datum.value == 'e3' ? 1.3 : 2.2"},"strokeDash":{"signal":"datum.value == 'e3' ? [7,3,1.5,3] : [2,2]"}}}}}}}},
{"transform":[{"filter":"datum.t == 0"}],"mark":{"type":"text","text":"d)","font":"Liberation Serif","fontSize":28,"align":"center","baseline":"middle","color":"#000000"},
"encoding":{"x":{"datum":-87,"type":"quantitative","scale":{"domain":[0,1200],"nice":false},"axis":null},"y":{"datum":-72,"type":"quantitative","scale":{"domain":[0,700],"nice":false},"axis":null}}}
]}
]
}
